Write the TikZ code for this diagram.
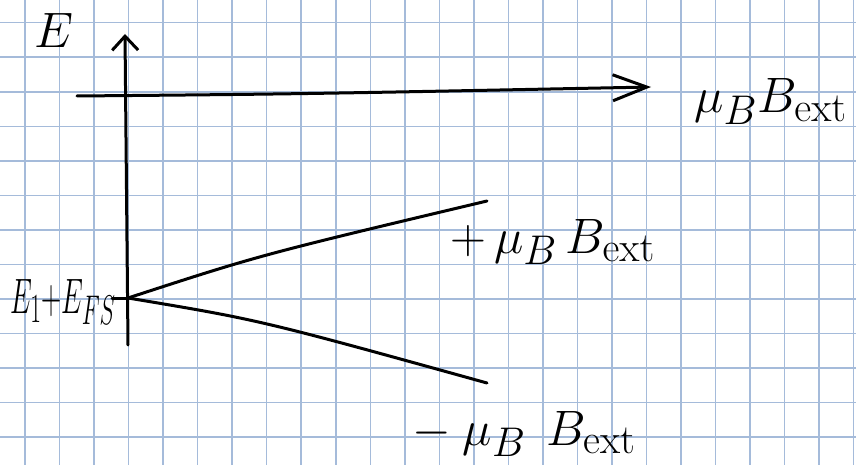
\documentclass[tikz,border=0pt]{standalone}
\usepackage{graphicx}
\usetikzlibrary{arrows.meta}
\definecolor{gridblue}{RGB}{165,187,218}
\newcommand{\BigTxt}[1]{\scalebox{2.0}{\Huge #1}}
\begin{document}
\begin{tikzpicture}[x=1pt,y=-1pt,
  ink/.style={line width=3pt, line cap=round, line join=round, black},
  gridline/.style={line width=1.5pt, gridblue},
  lbl/.style={inner sep=0pt, anchor=base west}]
\useasboundingbox (0,0) rectangle (856,465);
\fill[white] (0,0) rectangle (856,465);
\foreach \i in {0,...,24} \draw[gridline] ({25+34.53*\i},0) -- ({25+34.53*\i},465);
\foreach \j in {0,...,12} \draw[gridline] (0,{22.7+34.53*\j}) -- (856,{22.7+34.53*\j});
% coordinates
\coordinate (origin) at (128,298);
\coordinate (vbot) at (128,345);
\coordinate (vtop) at (125,34);
\coordinate (hleft) at (77,96);
\coordinate (hright) at (651,87);
\coordinate (upend) at (487,201);
\coordinate (lowend) at (487,383);
\coordinate (tick) at (112,298);
% axes
\draw[ink, -{Straight Barb[length=14pt,width=26pt]}] (vbot) -- (vtop);
\draw[ink, -{Straight Barb[length=34pt,width=26pt]}] (hleft) .. controls (300,94) .. (hright);
\draw[ink] (tick) -- (origin);
% splitting lines
\draw[ink] (origin) .. controls (260,255) .. (upend);
\draw[ink] (origin) .. controls (260,320) .. (lowend);
% labels
\node[lbl] (lE) at (34,48) {\BigTxt{$E$}};
\node[lbl] (lB) at (694,113) {\BigTxt{$\mu_B B_{\mathrm{ext}}$}};
\node[lbl] (lplus) at (450,253) {\BigTxt{$+\hspace{4pt}\mu_B\,B_{\mathrm{ext}}$}};
\node[lbl] (lminus) at (412,445) {\BigTxt{$-\hspace{6pt}\mu_B\hspace{10pt}B_{\mathrm{ext}}$}};
\node[lbl] (lE1) at (10,313) {\scalebox{1.12}[2.0]{\Huge$E_1{+}E_{FS}$}};
\end{tikzpicture}
\end{document}
